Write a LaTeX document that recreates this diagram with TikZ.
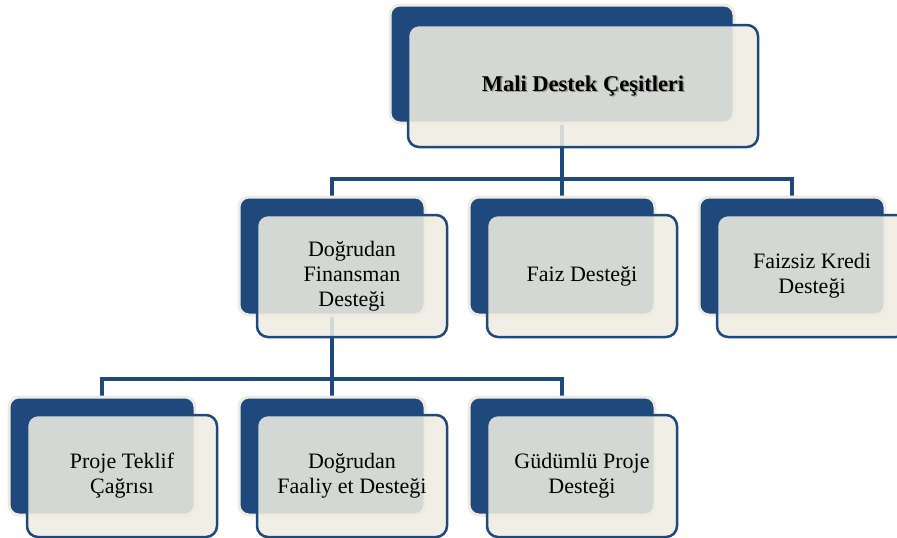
\documentclass[tikz,border=0pt]{standalone}
\usepackage{fontspec}
\setmainfont{Liberation Serif}
\usetikzlibrary{positioning}
\definecolor{deepblue}{RGB}{31,73,125}
\definecolor{cream}{RGB}{238,236,225}
\pgfdeclarelayer{bg}
\pgfsetlayers{bg,main}
\tikzset{
  backbox/.style={draw=cream, line width=3pt, fill=deepblue, rounded corners=10pt,
    minimum width=186pt, minimum height=118pt, inner sep=0pt},
  frontbox/.style={draw=deepblue, line width=2.5pt, fill=cream, fill opacity=0.88,
    text opacity=1, rounded corners=11pt, minimum width=190pt, minimum height=122pt,
    align=center, font=\fontsize{22}{25}\selectfont},
  link/.style={draw=deepblue, line width=4pt},
  toplabel/.style={font=\bfseries\fontsize{22.5}{27}\selectfont},
}
\begin{document}
\begin{tikzpicture}[x=1pt,y=-1pt]
  \useasboundingbox (0,0) rectangle (897,538);
  \clip (0,0) rectangle (897,538);
  % top
  \node[backbox, minimum width=344pt] (topback) at (562,64) {};
  % second row
  \node[backbox] (faizback) at (562,256) {};
  \node[backbox, left=41pt of faizback] (finback) {};
  \node[backbox, right=41pt of faizback] (kredback) {};
  % third row
  \node[backbox] (faaliyetback) at (332,456) {};
  \node[backbox, left=41pt of faaliyetback] (teklifback) {};
  \node[backbox, right=41pt of faaliyetback] (gudumback) {};
  % connectors
  \begin{pgfonlayer}{bg}
    \draw[link] (topback.south) -- ++(0,54) coordinate (bus1);
    \draw[link] (finback.north) |- (bus1) -| (kredback.north);
    \draw[link] (bus1) -- (faizback.north);
    \draw[link] (finback.south) -- ++(0,62) coordinate (bus2);
    \draw[link] (teklifback.north) |- (bus2) -| (gudumback.north);
    \draw[link] (bus2) -- (faaliyetback.north);
  \end{pgfonlayer}
  % fronts
  \node[frontbox, minimum width=350pt] (topfront) at ([xshift=21pt,yshift=-22pt]topback.center) {};
  \node[toplabel, text=black!40] (topshadow) at ([xshift=1.5pt,yshift=-1.5pt]topfront.center) {Mali Destek Çeşitleri};
  \node[toplabel] (toptext) at (topfront.center) {Mali Destek Çeşitleri};
  \node[frontbox] (finfront) at ([xshift=20pt,yshift=-20pt]finback.center) {Doğrudan\\Finansman\\Desteği};
  \node[frontbox] (faizfront) at ([xshift=20pt,yshift=-20pt]faizback.center) {Faiz Desteği};
  \node[frontbox] (kredfront) at ([xshift=20pt,yshift=-20pt]kredback.center) {Faizsiz Kredi\\Desteği};
  \node[frontbox] (teklifront) at ([xshift=20pt,yshift=-20pt]teklifback.center) {Proje Teklif\\Çağrısı};
  \node[frontbox] (faaliyetfront) at ([xshift=20pt,yshift=-20pt]faaliyetback.center) {Doğrudan\\Faaliy et Desteği};
  \node[frontbox] (gudumfront) at ([xshift=20pt,yshift=-20pt]gudumback.center) {Güdümlü Proje\\Desteği};
\end{tikzpicture}
\end{document}
